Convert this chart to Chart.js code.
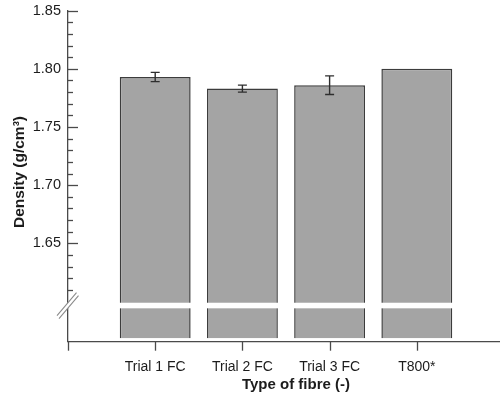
<!DOCTYPE html>
<html>
<head>
<meta charset="utf-8">
<script src="https://cdn.jsdelivr.net/npm/chart.js@4.4.1/dist/chart.umd.min.js"></script>
<style>
  body { margin: 0; background: #fff; }
  #wrap { width: 500px; height: 395px; }
</style>
</head>
<body>
<div id="wrap"><canvas id="densityChart"></canvas></div>
<script>
// data
const fibreTypes = ['Trial 1 FC', 'Trial 2 FC', 'Trial 3 FC', 'T800*'];
const densities = [1.793, 1.783, 1.786, 1.800];
const densityErrors = [0.004, 0.003, 0.008, 0];
const yMajorTicks = [1.65, 1.70, 1.75, 1.80, 1.85];

// broken y axis: everything below the break is squeezed into a short stub
const yMin = 1.5654;
const yMax = 1.85;
const barBase = 1.5683;
const breakValue = 1.5965;

const axisColor = '#4a4a4a';
const textColor = '#1c1c1c';

const brokenAxis = {
    id: 'brokenAxis',
    afterDatasetsDraw(chart) {
        const c = chart.ctx;
        const area = chart.chartArea;
        const y = chart.scales.y;
        const x = chart.scales.x;

        // white gap through the bars
        const yTop = y.getPixelForValue(breakValue + 0.0024);
        const yBot = y.getPixelForValue(breakValue - 0.0024);
        c.save();
        c.fillStyle = '#fff';
        c.fillRect(area.left + 1, yTop, area.right - area.left, yBot - yTop);

        // error bars
        c.strokeStyle = '#2e2e2e';
        c.lineWidth = 1.4;
        densities.forEach((v, i) => {
            const e = densityErrors[i];
            if (!e) return;
            const px = x.getPixelForValue(i + 1);
            const hi = y.getPixelForValue(v + e);
            const lo = y.getPixelForValue(v - e);
            c.beginPath();
            c.moveTo(px, hi); c.lineTo(px, lo);
            c.moveTo(px - 4.5, hi); c.lineTo(px + 4.5, hi);
            c.moveTo(px - 4.5, lo); c.lineTo(px + 4.5, lo);
            c.stroke();
        });
        c.restore();
    },
    afterDraw(chart) {
        const c = chart.ctx;
        const area = chart.chartArea;
        const y = chart.scales.y;
        const x = chart.scales.x;
        c.save();
        c.strokeStyle = axisColor;
        c.lineWidth = 1.3;

        // inward y ticks, only above the break
        y.ticks.forEach(t => {
            const hund = Math.round(t.value * 100);
            if (Math.abs(t.value * 100 - hund) > 0.01 || hund < 161) return;
            const py = Math.round(y.getPixelForValue(hund / 100)) + 0.5;
            const len = hund % 5 === 0 ? 10 : 5;
            c.beginPath();
            c.moveTo(area.left, py);
            c.lineTo(area.left + len, py);
            c.stroke();
        });

        // downward x ticks
        x.ticks.forEach(t => {
            if (!Number.isInteger(t.value)) return;
            const px = Math.round(x.getPixelForValue(t.value)) + 0.5;
            c.beginPath();
            c.moveTo(px, area.bottom);
            c.lineTo(px, area.bottom + 9);
            c.stroke();
        });

        // break marks on the y axis
        const by = y.getPixelForValue(breakValue);
        const bx = area.left - 0.5;
        c.fillStyle = '#fff';
        c.beginPath();
        c.moveTo(bx - 10.5, by + 10);
        c.lineTo(bx + 9, by - 13);
        c.lineTo(bx + 11, by - 10);
        c.lineTo(bx - 8.5, by + 13);
        c.closePath();
        c.fill();
        c.strokeStyle = '#8c8c8c';
        c.lineWidth = 1.1;
        c.beginPath();
        c.moveTo(bx - 10.5, by + 10); c.lineTo(bx + 9, by - 13);
        c.moveTo(bx - 8.5, by + 13); c.lineTo(bx + 11, by - 10);
        c.stroke();

        // axis titles
        c.fillStyle = textColor;
        c.font = 'bold 15px "Liberation Sans", Arial, sans-serif';
        c.textAlign = 'center';
        c.textBaseline = 'alphabetic';
        c.fillText('Type of fibre (-)', 296, 388.5);
        c.translate(20, 172);
        c.rotate(-Math.PI / 2);
        c.textBaseline = 'middle';
        c.font = 'bold 15.5px "Liberation Sans", Arial, sans-serif';
        c.fillText('Density (g/cm³)', 0, 0);
        c.restore();
    }
};

new Chart(document.getElementById('densityChart'), {
    type: 'bar',
    data: {
        datasets: [{
            label: 'Density',
            data: densities.map((v, i) => ({ x: i + 1, y: v })),
            base: barBase,
            backgroundColor: '#a4a4a4',
            borderColor: '#3c3c3c',
            borderWidth: 1.5,
            barPercentage: 0.852,
            categoryPercentage: 1
        }]
    },
    options: {
        responsive: true,
        maintainAspectRatio: false,
        animation: false,
        layout: { padding: { top: 10.7, right: 0, left: 0, bottom: 0 } },
        plugins: {
            legend: { display: false },
            tooltip: { enabled: false }
        },
        scales: {
            x: {
                type: 'linear',
                offset: false,
                min: 0,
                max: 4.954,
                afterFit(s) {
                    s.height = 53.3;
                    s.paddingLeft = 0;
                    s.paddingRight = 0;
                },
                grid: { display: false, drawTicks: false, offset: false },
                border: { display: true, color: axisColor, width: 1.3 },
                ticks: {
                    stepSize: 1,
                    autoSkip: false,
                    maxRotation: 0,
                    padding: 17,
                    color: textColor,
                    font: { family: '"Liberation Sans", Arial, sans-serif', size: 14 },
                    callback: v => Number.isInteger(v) && v >= 1 ? fibreTypes[v - 1] : ''
                }
            },
            y: {
                min: yMin,
                max: yMax,
                afterFit(s) {
                    s.width = 68;
                    s.paddingTop = 0;
                    s.paddingBottom = 0;
                },
                grid: { display: false, drawTicks: false },
                border: { display: true, color: axisColor, width: 1.3 },
                ticks: {
                    stepSize: 0.01,
                    autoSkip: false,
                    padding: 7,
                    color: textColor,
                    font: { family: '"Liberation Sans", Arial, sans-serif', size: 14.5 },
                    callback: v => {
                        const m = yMajorTicks.find(t => Math.abs(t - v) < 0.0005);
                        return m ? m.toFixed(2) : '';
                    }
                }
            }
        }
    },
    plugins: [brokenAxis]
});
</script>
</body>
</html>
